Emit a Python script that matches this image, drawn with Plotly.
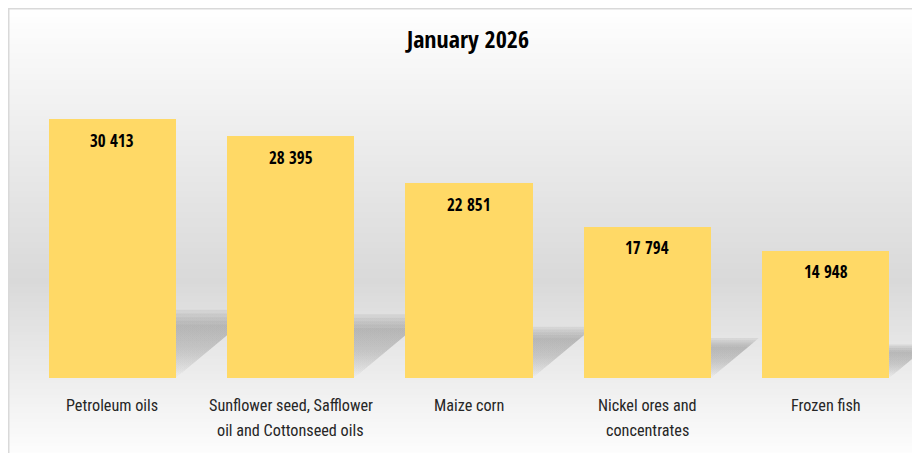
import plotly.graph_objects as go

categories = ["Petroleum oils", "Sunflower seed, Safflower<br>oil and Cottonseed oils",
              "Maize corn", "Nickel ores and<br>concentrates", "Frozen fish"]
values = [30413, 28395, 22851, 17794, 14948]
title_text = "January 2026"

W, H = 920, 453
ML, MR, MT, MB = 15, 13, 72, 83
YMAX = 35000
BAR_W = 0.712
BOLD_FONT = "Open Sans Condensed, Roboto Condensed, Arial, sans-serif"
REG_FONT = "Roboto Condensed, DejaVu Sans Condensed, Arial, sans-serif"

idx = list(range(len(values)))
labels = [f"{v:,}".replace(",", " ") for v in values]

fig = go.Figure()

plot_h = H - MT - MB
plot_w = W - ML - MR
px_per_y = plot_h / YMAX
px_per_x = plot_w / len(values)

# soft shadows (base axes, beneath the bars)
for i, v in zip(idx, values):
    for s in [0.88, 0.94, 1.0, 1.06, 1.12]:
        sh = 0.235 * v * s
        dx = 1.2 * sh * px_per_y / px_per_x
        xs = [i - BAR_W / 2, i + BAR_W / 2, i + BAR_W / 2 + dx, i - BAR_W / 2 + dx, i - BAR_W / 2]
        ys = [0, 0, sh, sh, 0]
        fig.add_trace(go.Scatter(
            x=xs, y=ys, mode="lines", fill="toself", line=dict(width=0),
            fillgradient=dict(type="vertical",
                              colorscale=[[0, "rgba(150,150,150,0.0)"], [0.5, "rgba(150,150,150,0.11)"],
                                          [1, "rgba(150,150,150,0.18)"]]),
            hoverinfo="skip", showlegend=False, xaxis="x", yaxis="y"))

fig.add_trace(go.Bar(
    x=idx, y=values, width=BAR_W, marker=dict(color="#FFD966", line=dict(width=0)),
    hoverinfo="skip", showlegend=False, xaxis="x2", yaxis="y2"))

for i, v, t in zip(idx, values, labels):
    fig.add_annotation(x=i, y=v, xref="x2", yref="y2", text=f"<b>{t}</b>", showarrow=False,
                       yshift=-21, font=dict(family=BOLD_FONT, size=17, color="#000000"))

# category labels (one annotation per line for Excel-like line spacing)
for i, cat in zip(idx, categories):
    for k, line in enumerate(cat.split("<br>")):
        fig.add_annotation(x=i, y=0, xref="x2", yref="paper", text=line, showarrow=False,
                           yanchor="middle", yshift=-27 - 25 * k,
                           font=dict(family=REG_FONT, size=16.2, color="#262626"))

# background gradient stripes (white -> gray -> white)
shapes = []
top_px, bot_px = -3, 456
step = 3
y = top_px
while y < bot_px:
    t = (y + step / 2 - top_px) / (bot_px - top_px)
    if t < 0.6:
        c = 255 - 38 * (t / 0.6)
    else:
        c = 217 + 38 * ((t - 0.6) / 0.4)
    c = int(round(c))
    y0 = (H - MB - (y + step)) / plot_h
    y1 = (H - MB - y) / plot_h
    shapes.append(dict(type="rect", xref="paper", yref="paper",
                       x0=(0 - ML) / plot_w, x1=(W + 10 - ML) / plot_w, y0=y0, y1=y1,
                       fillcolor=f"rgb({c},{c},{c})", line=dict(width=0), layer="below"))
    y += step
shapes.append(dict(type="rect", xref="paper", yref="paper",
                   x0=(0.75 - ML) / plot_w, x1=(W + 10 - ML) / plot_w,
                   y0=(H - MB - (H + 10)) / plot_h, y1=(H - MB - 0.75) / plot_h,
                   fillcolor="rgba(0,0,0,0)", line=dict(width=1.5, color="#d9d9d9"), layer="below"))

axis_common = dict(range=[-0.5, len(values) - 0.5], showgrid=False, zeroline=False,
                   showline=False, showticklabels=False)
fig.update_layout(
    width=W, height=H,
    margin=dict(l=ML, r=MR, t=MT, b=MB),
    paper_bgcolor="white", plot_bgcolor="rgba(0,0,0,0)",
    shapes=shapes,
    title=dict(text=f"<b>{title_text}</b>", x=(460 - ML) / plot_w, xref="paper", xanchor="center",
               y=1 - 32 / H, yref="container", yanchor="middle",
               font=dict(family=BOLD_FONT, size=24, color="#000000")),
    xaxis=dict(**axis_common),
    yaxis=dict(range=[0, YMAX], showgrid=False, zeroline=False, showticklabels=False),
    xaxis2=dict(**axis_common, overlaying="x"),
    yaxis2=dict(range=[0, YMAX], overlaying="y", showgrid=False, zeroline=False,
                showticklabels=False),
    bargap=0,
)

fig.write_html("out.html")
